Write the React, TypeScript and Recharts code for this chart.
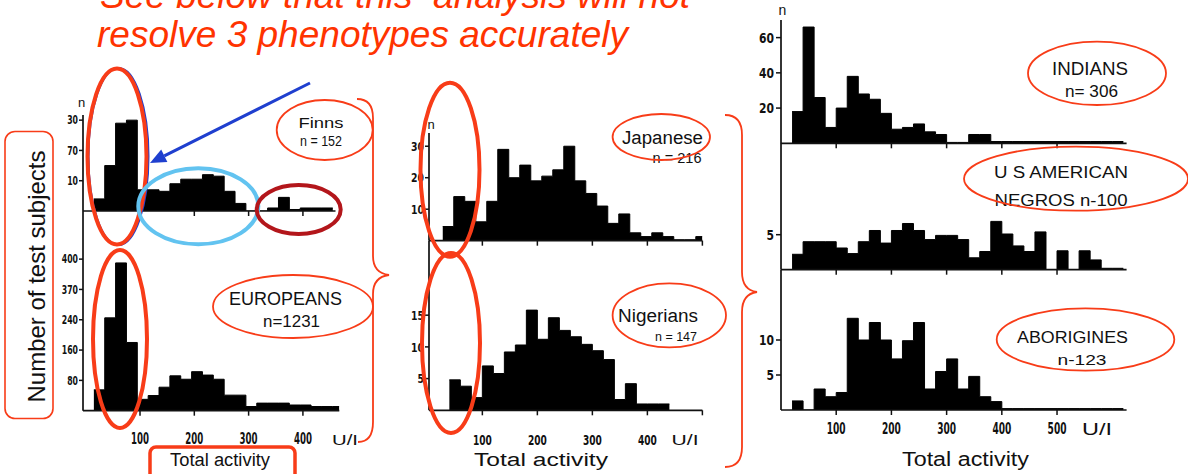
import React from 'react';
import { AreaChart, Area, XAxis, YAxis } from 'recharts';

// ---------- data (counts per 20 U/I bin) ----------
const BIN_WIDTH = 20;

const finnsBinStart = 15;
const finnsCounts = [4, 15, 29, 30, 7, 7, 6.5, 9, 10.5, 10.5, 12, 11.5, 6.5, 2.5, 0, 0, 1, 4.5, 0.5, 1, 1, 1];

const europeansBinStart = 15;
const europeansCounts = [55, 245, 390, 180, 30, 40, 62, 92, 83, 103, 94, 83, 41, 41, 11, 20, 20, 20, 15, 15, 11, 11, 11];

const japaneseBinStart = 28;
const japaneseCounts = [4.5, 14, 12.5, 6, 12.5, 29, 20, 24, 19, 20.5, 22.5, 30, 19, 15, 11, 5.5, 8.5, 2.5, 1.3, 2.5, 1.3, 0.3, 0.3, 1.3];

const nigeriansBinStart = 40;
const nigeriansCounts = [4.8, 3.8, 2, 7, 5.8, 9.2, 10.3, 15.8, 11.2, 14.6, 12.6, 11.6, 10.4, 9.4, 8, 1.7, 4.2, 1, 1, 1];

const indiansBinStart = 20;
const indiansCounts = [18, 66, 26, 9, 20, 38, 28, 25, 17, 8, 9, 11, 6.5, 5, 0.5, 0.5, 5, 5, 1, 1, 1, 1, 1, 1, 1, 1, 1, 1, 1, 1];

const usNegrosBinStart = 20;
const usNegrosCounts = [2.2, 4, 4, 4, 3.1, 2.3, 4, 5.6, 3.8, 5.6, 6.6, 5.6, 4.3, 4.9, 4.9, 4.3, 1.7, 2.6, 6.9, 5.1, 3.4, 2.6, 5.4, 0, 2.7, 0, 2.7, 1.4, 0.2, 0.2];

const aboriginesBinStart = 20;
const aboriginesCounts = [1.3, 0, 3, 1.9, 2.5, 13.1, 10, 12.5, 10, 7.3, 9.9, 12.5, 3, 5.5, 7.3, 3, 4.8, 1.9, 1.2, 0.2, 0.2, 0.2, 0.2, 0.2, 0.2, 0.2, 0.2, 0.2, 0.2, 0.2];

// ---------- ticks ----------
const leftXTicks = [100, 200, 300, 400];
const leftXLabels = ['100', '200', '300', '400'];
const noLabels4 = ['', '', '', ''];
const finnsYTicks = [10, 20, 30];
const finnsYLabels = ['10', '70', '30'];
const europeansYTicks = [80, 160, 240, 320, 400];
const europeansYLabels = ['80', '160', '240', '370', '400'];

const midXTicks = [100, 200, 300, 400, 500];
const midXLabels = ['100', '200', '300', '400', ''];
const noLabels5 = ['', '', '', '', ''];
const japaneseYTicks = [10, 20, 30];
const japaneseYLabels = ['10', '20', '30'];
const nigeriansYTicks = [5, 10, 15];
const nigeriansYLabels = ['5', '10', '15'];

const rightXTicks = [100, 200, 300, 400, 500];
const rightXLabels = ['100', '200', '300', '400', '500'];
const indiansYTicks = [20, 40, 60];
const indiansYLabels = ['20', '40', '60'];
const usNegrosYTicks = [5];
const usNegrosYLabels = ['5'];
const aboriginesYTicks = [5, 10];
const aboriginesYLabels = ['5', '10'];

// ---------- style ----------
const INK = '#111111';
const RED = '#f83c18';
const TITLE_RED = '#ff3300';
const TICK_FONT = '"Liberation Sans Narrow", "DejaVu Sans Condensed", "Liberation Sans", Arial, sans-serif';
const LABEL_FONT = '"Liberation Sans", Arial, sans-serif';

type Hist = { x: number; n: number };

function buildHist(counts: number[], start: number, xMax: number): Hist[] {
  const pts = counts.map((n, i) => ({ x: start + i * BIN_WIDTH, n }));
  pts.push({ x: Math.min(start + counts.length * BIN_WIDTH, xMax), n: counts[counts.length - 1] });
  return pts;
}

function makeXTick(ticks: number[], labels: string[], fs: number, cw: number) {
  return (props: any) => {
    const { x, y, payload } = props;
    const i = ticks.indexOf(payload.value);
    const label = i >= 0 ? labels[i] : '';
    if (!label) return <g />;
    return (
      <text x={x} y={y} dy="0.71em" textAnchor="middle" fontSize={fs} fontFamily={TICK_FONT} fontWeight="bold"
        fill={INK} textLength={label.length * cw} lengthAdjust="spacingAndGlyphs">{label}</text>
    );
  };
}

function makeYTick(ticks: number[], labels: string[], fs: number, cw: number) {
  return (props: any) => {
    const { x, y, payload } = props;
    const i = ticks.indexOf(payload.value);
    const label = i >= 0 ? labels[i] : '';
    if (!label) return <g />;
    return (
      <text x={x} y={y} dy="0.36em" textAnchor="end" fontSize={fs} fontFamily={TICK_FONT} fontWeight="bold"
        fill={INK} textLength={label.length * cw} lengthAdjust="spacingAndGlyphs">{label}</text>
    );
  };
}

type FontCfg = { yFs: number; yCw: number; ySize: number; yGap: number; xFs: number; xCw: number; xGap: number };

type PanelProps = {
  counts: number[];
  binStart: number;
  left: number;
  top: number;
  width: number;
  height: number;
  xDomain: [number, number];
  yMax: number;
  xTicks: number[];
  xLabels: string[];
  yTicks: number[];
  yLabels: string[];
  font: FontCfg;
};

function Panel(p: PanelProps) {
  const ML = 40, MR = 6, MT = 6, XH = 50;
  const data = buildHist(p.counts, p.binStart, p.xDomain[1]);
  return (
    <div style={{ position: 'absolute', left: p.left - ML, top: p.top - MT }}>
      <AreaChart width={ML + p.width + MR} height={MT + p.height + XH} data={data}
        margin={{ top: MT, right: MR, bottom: 0, left: 0 }}>
        <XAxis type="number" dataKey="x" domain={p.xDomain} allowDataOverflow ticks={p.xTicks} interval={0}
          height={XH} tickSize={5} tickMargin={p.font.xGap}
          axisLine={{ stroke: INK, strokeWidth: 1.7 }} tickLine={{ stroke: INK, strokeWidth: 1.5 }}
          tick={makeXTick(p.xTicks, p.xLabels, p.font.xFs, p.font.xCw)} />
        <YAxis type="number" domain={[0, p.yMax]} allowDataOverflow ticks={p.yTicks} interval={0}
          width={ML} tickSize={p.font.ySize} tickMargin={p.font.yGap}
          axisLine={{ stroke: INK, strokeWidth: 1.7 }} tickLine={{ stroke: INK, strokeWidth: 1.5 }}
          tick={makeYTick(p.yTicks, p.yLabels, p.font.yFs, p.font.yCw)} />
        <Area type="stepAfter" dataKey="n" stroke="#000" strokeWidth={1} fill="#000" fillOpacity={1}
          isAnimationActive={false} dot={false} activeDot={false} />
      </AreaChart>
    </div>
  );
}

const leftFont: FontCfg = { yFs: 12, yCw: 5.4, ySize: 4, yGap: 1, xFs: 15, xCw: 6, xGap: 18 };
const midFont: FontCfg = { yFs: 13, yCw: 6.5, ySize: 4, yGap: 1, xFs: 14, xCw: 6.3, xGap: 20 };
const rightFont: FontCfg = { yFs: 14, yCw: 7.5, ySize: 5, yGap: 2, xFs: 15, xCw: 6.3, xGap: 8 };

function Label({ cx, cy, w, fs, children }: { cx: number; cy: number; w: number; fs: number; children: string }) {
  return (
    <text x={cx} y={cy + 0.358 * fs} textAnchor="middle" fontSize={fs} fontFamily={LABEL_FONT} fill={INK}
      textLength={w} lengthAdjust="spacingAndGlyphs" style={{ whiteSpace: 'pre' }}>{children}</text>
  );
}

export default function App() {
  return (
    <div style={{ position: 'absolute', left: 0, top: 0, width: 1188, height: 474, background: '#fff', overflow: 'hidden' }}>
      {/* Left column */}
      <Panel counts={finnsCounts} binStart={finnsBinStart} left={83} top={115} width={252.5} height={96}
        xDomain={[-5, 460]} yMax={31.7} xTicks={leftXTicks} xLabels={noLabels4}
        yTicks={finnsYTicks} yLabels={finnsYLabels} font={leftFont} />
      <Panel counts={europeansCounts} binStart={europeansBinStart} left={83} top={211} width={256.3} height={199.7}
        xDomain={[-5, 467]} yMax={527} xTicks={leftXTicks} xLabels={leftXLabels}
        yTicks={europeansYTicks} yLabels={europeansYLabels} font={leftFont} />
      {/* Middle column */}
      <Panel counts={japaneseCounts} binStart={japaneseBinStart} left={429.4} top={133} width={273.4} height={107.7}
        xDomain={[3, 500]} yMax={34.2} xTicks={midXTicks} xLabels={noLabels5}
        yTicks={japaneseYTicks} yLabels={japaneseYLabels} font={midFont} />
      <Panel counts={nigeriansCounts} binStart={nigeriansBinStart} left={429.4} top={240.7} width={273.4} height={169.3}
        xDomain={[3, 500]} yMax={26.7} xTicks={midXTicks} xLabels={midXLabels}
        yTicks={nigeriansYTicks} yLabels={nigeriansYLabels} font={midFont} />
      {/* Right column */}
      <Panel counts={indiansCounts} binStart={indiansBinStart} left={781} top={20} width={345.6} height={123.3}
        xDomain={[0, 626]} yMax={70} xTicks={rightXTicks} xLabels={noLabels5}
        yTicks={indiansYTicks} yLabels={indiansYLabels} font={rightFont} />
      <Panel counts={usNegrosCounts} binStart={usNegrosBinStart} left={781} top={143.3} width={345.6} height={126.7}
        xDomain={[0, 626]} yMax={18.1} xTicks={rightXTicks} xLabels={noLabels5}
        yTicks={usNegrosYTicks} yLabels={usNegrosYLabels} font={rightFont} />
      <Panel counts={aboriginesCounts} binStart={aboriginesBinStart} left={781} top={270} width={345.6} height={140}
        xDomain={[0, 626]} yMax={20} xTicks={rightXTicks} xLabels={rightXLabels}
        yTicks={aboriginesYTicks} yLabels={aboriginesYLabels} font={rightFont} />

      <svg width={1188} height={474} style={{ position: 'absolute', left: 0, top: 0, pointerEvents: 'none' }}>
        {/* title */}
        <text x={100} y={8} fontSize={37} fontStyle="italic" fontFamily={LABEL_FONT} fill={TITLE_RED}
          textLength={590} lengthAdjust="spacingAndGlyphs" style={{ whiteSpace: 'pre' }}>See below that this  analysis will not</text>
        <text x={97} y={47} fontSize={37} fontStyle="italic" fontFamily={LABEL_FONT} fill={TITLE_RED}
          textLength={531} lengthAdjust="spacingAndGlyphs">resolve 3 phenotypes accurately</text>

        {/* "n" axis labels */}
        <text x={81.5} y={107} textAnchor="middle" fontSize={13} fontFamily={LABEL_FONT} fill={INK}>n</text>
        <text x={431} y={129} textAnchor="middle" fontSize={13} fontFamily={LABEL_FONT} fill={INK}>n</text>
        <text x={782.5} y={15} textAnchor="middle" fontSize={14} fontFamily={LABEL_FONT} fill={INK}>n</text>

        {/* U/I labels */}
        <text x={345} y={445} textAnchor="middle" fontSize={15} fontFamily={LABEL_FONT} fill={INK} textLength={26} lengthAdjust="spacingAndGlyphs">U/I</text>
        <text x={685} y={445} textAnchor="middle" fontSize={14} fontFamily={LABEL_FONT} fill={INK} textLength={27} lengthAdjust="spacingAndGlyphs">U/I</text>
        <text x={1097} y={435} textAnchor="middle" fontSize={16} fontFamily={LABEL_FONT} fill={INK} textLength={30} lengthAdjust="spacingAndGlyphs">U/I</text>

        {/* Total activity labels */}
        <text x={220} y={466} textAnchor="middle" fontSize={18} fontFamily={LABEL_FONT} fill={INK} textLength={100} lengthAdjust="spacingAndGlyphs">Total activity</text>
        <text x={541} y={466} textAnchor="middle" fontSize={18} fontFamily={LABEL_FONT} fill={INK} textLength={134} lengthAdjust="spacingAndGlyphs">Total activity</text>
        <text x={965.5} y={466} textAnchor="middle" fontSize={20} fontFamily={LABEL_FONT} fill={INK} textLength={127} lengthAdjust="spacingAndGlyphs">Total activity</text>

        {/* Number of test subjects */}
        <rect x={5} y={131.5} width={48} height={287} rx={10} ry={10} fill="none" stroke={RED} strokeWidth={1.6} />
        <text transform="translate(45,276.5) rotate(-90)" textAnchor="middle" fontSize={24} fontFamily={LABEL_FONT}
          fill={INK} textLength={252} lengthAdjust="spacingAndGlyphs">Number of test subjects</text>
        <rect x={150} y={447} width={145} height={45} rx={6} ry={6} fill="none" stroke={RED} strokeWidth={3.5} />

        {/* population labels */}
        <Label cx={321} cy={122.5} w={45} fs={15}>Finns</Label>
        <Label cx={321} cy={141} w={42} fs={14}>n = 152</Label>
        <Label cx={285.5} cy={298.5} w={113} fs={18}>EUROPEANS</Label>
        <Label cx={291.5} cy={321} w={57} fs={16}>n=1231</Label>
        <Label cx={662.5} cy={138} w={81} fs={18}>Japanese</Label>
        <Label cx={677} cy={158} w={49} fs={14}>n = 216</Label>
        <Label cx={658} cy={316} w={80} fs={18}>Nigerians</Label>
        <Label cx={676} cy={336} w={42} fs={13}>n = 147</Label>
        <Label cx={1090} cy={68.5} w={76} fs={18}>INDIANS</Label>
        <Label cx={1091.5} cy={91} w={53} fs={16}>n= 306</Label>
        <Label cx={1061} cy={172.5} w={134} fs={16}>U S AMERICAN</Label>
        <Label cx={1061} cy={200} w={133} fs={16}>NEGROS n-100</Label>
        <Label cx={1072.5} cy={337.5} w={111} fs={16}>ABORIGINES</Label>
        <Label cx={1082} cy={360} w={49} fs={15}>n-123</Label>

        {/* label ellipses */}
        <ellipse cx={324.7} cy={130} rx={48} ry={30} fill="none" stroke={RED} strokeWidth={1.8} />
        <ellipse cx={293} cy={306.5} rx={80} ry={31.5} fill="none" stroke={RED} strokeWidth={1.8} />
        <ellipse cx={661.3} cy={137} rx={48.7} ry={23} fill="none" stroke={RED} strokeWidth={1.8} />
        <ellipse cx={669.3} cy={315.3} rx={56.7} ry={32} fill="none" stroke={RED} strokeWidth={1.8} />
        <ellipse cx={1097} cy={73.3} rx={69} ry={31.7} fill="none" stroke={RED} strokeWidth={1.8} />
        <ellipse cx={1076} cy={178.7} rx={112} ry={32} fill="none" stroke={RED} strokeWidth={1.8} />
        <ellipse cx={1085.5} cy={339.5} rx={88.8} ry={31.2} fill="none" stroke={RED} strokeWidth={1.8} />

        {/* phenotype ellipses */}
        <ellipse cx={118.5} cy={156.5} rx={30} ry={88.5} fill="none" stroke="#1f3fcf" strokeWidth={2} />
        <ellipse cx={117} cy={156.5} rx={29.5} ry={88} fill="none" stroke={RED} strokeWidth={4} />
        <ellipse cx={198.3} cy={206.2} rx={60} ry={38} fill="none" stroke="#62c3f0" strokeWidth={4} />
        <ellipse cx={298.7} cy={209.5} rx={42} ry={24.5} fill="none" stroke="#b3161b" strokeWidth={4} />
        <ellipse cx={120} cy={339} rx={27} ry={89} fill="none" stroke={RED} strokeWidth={4} />
        <ellipse cx={450} cy={169.7} rx={29.5} ry={87} fill="none" stroke={RED} strokeWidth={4} />
        <ellipse cx={451} cy={343} rx={29} ry={90} fill="none" stroke={RED} strokeWidth={4} />

        {/* blue arrow */}
        <line x1={310} y1={83} x2={164.3} y2={155.8} stroke="#1f3fcf" strokeWidth={3} />
        <polygon points="150,163 167.4,162.1 161.2,149.5" fill="#1f3fcf" />

        {/* braces */}
        <path d="M357,99 Q373,99 373,118 L373,256 Q373,273 389,275 Q373,277 373,294 L373,422 Q373,442 358,442"
          fill="none" stroke={RED} strokeWidth={1.8} />
        <path d="M725,115 Q742,115 742,135 L742,272 Q742,290 757,292 Q742,294 742,312 L742,447 Q742,467 725,467"
          fill="none" stroke={RED} strokeWidth={1.8} />
      </svg>
    </div>
  );
}
